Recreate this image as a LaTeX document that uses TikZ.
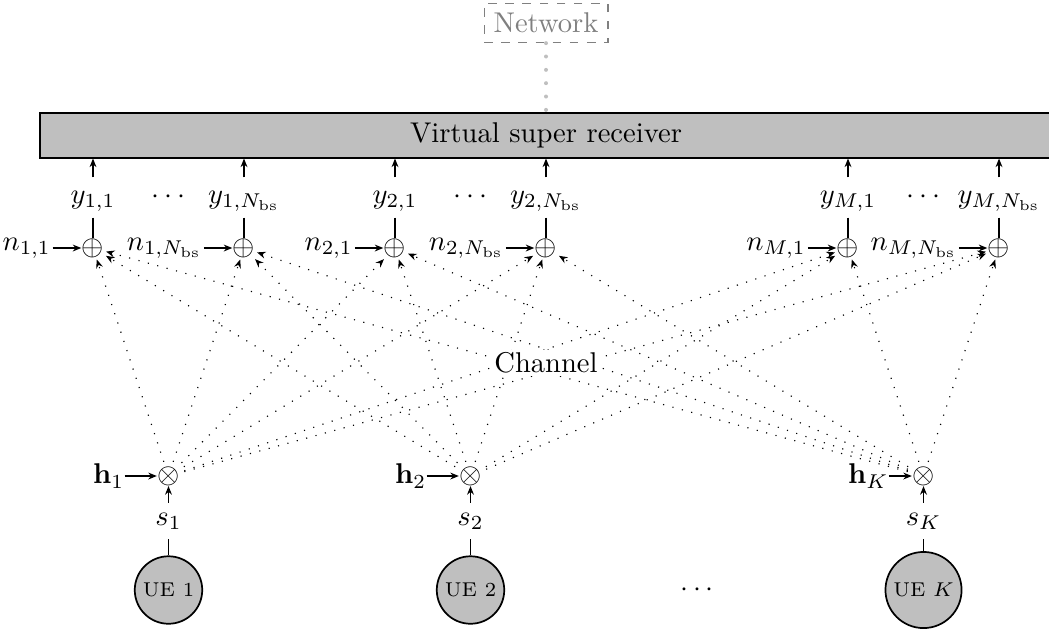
\documentclass[tikz,border=0pt]{standalone}
\usetikzlibrary{arrows.meta}
\begin{document}
\begin{tikzpicture}[x=0.35pt, y=-0.35pt,
  >={Stealth[length=3pt,width=2.4pt]},
  recv/.style={draw, semithick, fill=lightgray, minimum width=354.2pt, inner sep=3.33pt},
  net/.style={draw=gray, dashed, text=gray, inner sep=3.33pt},
  netlink/.style={draw=gray!50, line width=1.4pt, line cap=round, dash pattern=on 0pt off 4.67pt},
  sumnode/.style={inner sep=0pt},
  ylab/.style={anchor=base, text height=5.4pt, text depth=1.6pt, inner sep=3.33pt},
  nlab/.style={anchor=east, inner sep=0.5pt},
  hlab/.style={anchor=west, inner sep=0pt},
  ue/.style={circle, draw, semithick, fill=lightgray, font=\scriptsize, inner sep=2pt},
  chan/.style={dash pattern=on 0.4pt off 3pt, ->, shorten <=1.5pt, shorten >=0.5pt},
  conn/.style={->}
]
\useasboundingbox (0,0) rectangle (1049,630);

% backhaul and central processing
\node[net] (net) at (546,23) {Network};
\node[recv] (rx) at (546,135.5) {Virtual super receiver};
\draw[netlink] (net) -- (rx);

% receive antennas: adders, noise inputs and outputs
\foreach \id/\xx/\sub in {11/93/{1,1}, 1N/244/{1,N_{\mathrm{bs}}}, 21/395/{2,1},
                          2N/546/{2,N_{\mathrm{bs}}}, M1/848/{M,1}, MN/999/{M,N_{\mathrm{bs}}}} {
  \node[sumnode] (p\id) at (\xx,248) {$\oplus$};
  \node[ylab] (y\id) at (\xx,203) {$y_{\sub}$};
  \node[nlab] (n\id) at ([xshift=-10pt]p\id.west) {$n_{\sub}$};
  \draw[conn] (n\id.east) -- (p\id.west);
  \draw (y\id.south) -- (p\id.north);
  \draw[conn] (y\id.north) -- (y\id.north |- rx.south);
}
\node[anchor=base] (dy1) at (168.5,203) {$\cdots$};
\node[anchor=base] (dy2) at (470.5,203) {$\cdots$};
\node[anchor=base] (dy3) at (923.5,203) {$\cdots$};

% users: sources, channel vectors and multipliers
\foreach \id/\xx in {1/168.5, 2/470.5, K/923.5} {
  \node[sumnode] (t\id) at (\xx,476) {$\otimes$};
  \node[hlab] (h\id) at (\xx-76,476) {$\mathbf{h}_{\id}$};
  \draw[conn] (h\id.east) -- (t\id.west);
  \node (s\id) at (\xx,521) {$s_{\id}$};
  \node[ue] (u\id) at (\xx,590) {UE $\id$};
  \draw[conn] (s\id.north) -- (t\id.south);
  \draw (u\id.north) -- (s\id.south);
}
\node (du) at (697,590) {$\cdots$};

% channel: every user reaches every antenna
\foreach \u in {1,2,K}
  \foreach \a in {11,1N,21,2N,M1,MN}
    \draw[chan] (t\u) -- (p\a);

\node[fill=white, inner sep=1pt] (ch) at (546,363) {Channel};
\end{tikzpicture}
\end{document}
